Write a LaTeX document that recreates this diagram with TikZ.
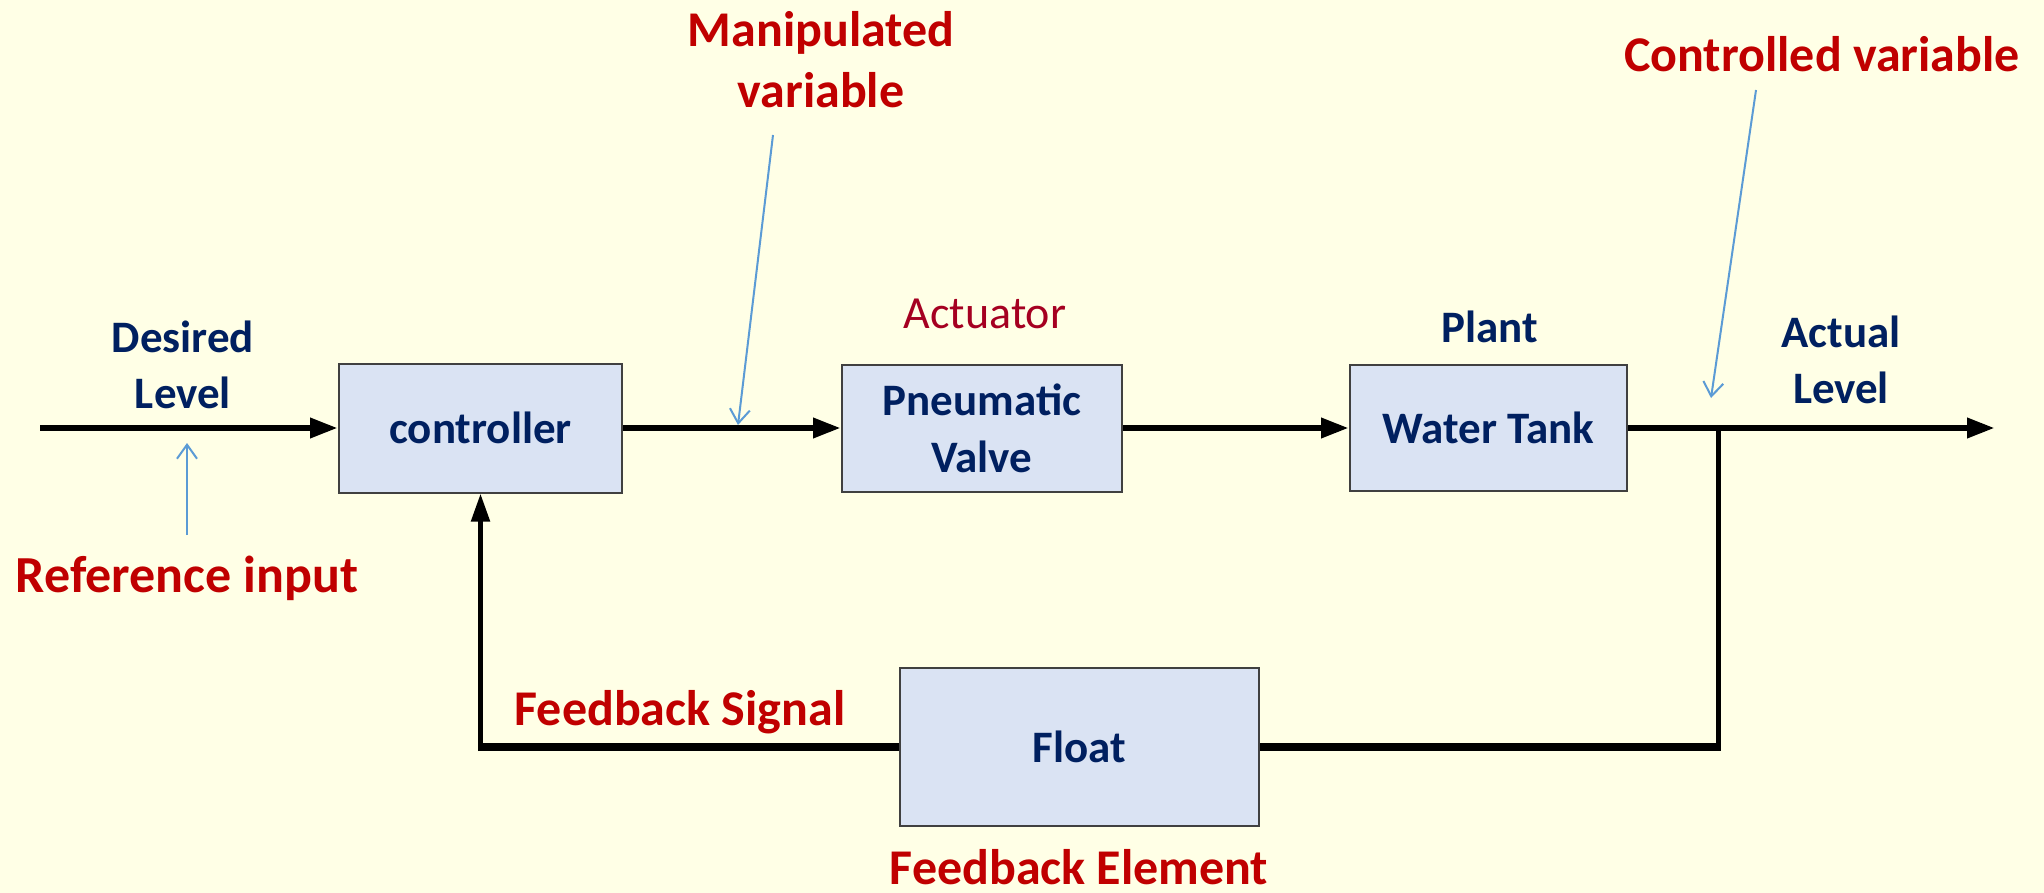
\documentclass[tikz,border=0pt]{standalone}
\usepackage{fontspec}
\setmainfont{Carlito}
\usetikzlibrary{arrows.meta}
\definecolor{bg}{HTML}{FFFFE6}
\definecolor{navy}{HTML}{002060}
\definecolor{lblred}{HTML}{C00000}
\definecolor{actred}{HTML}{A50021}
\definecolor{boxfill}{HTML}{DAE3F3}
\definecolor{boxline}{HTML}{404040}
\definecolor{callout}{HTML}{5B9BD5}
\begin{document}
\begin{tikzpicture}[x=1pt,y=-1pt,
  blk/.style={draw=boxline,line width=2pt,fill=boxfill,text=navy,
    font=\bfseries\fontsize{45}{57}\selectfont,align=center,inner sep=0pt},
  navylbl/.style={text=navy,font=\bfseries\fontsize{45}{56}\selectfont,align=center,inner sep=0pt},
  redlbl/.style={text=lblred,font=\bfseries\fontsize{50}{61}\selectfont,align=center,inner sep=0pt},
  sig/.style={line width=6.5pt,-{Triangle[length=28pt,width=19pt]}},
  fbh/.style={line width=8pt},
  fbv/.style={line width=5pt},
  call/.style={draw=callout,line width=2pt,-{Straight Barb[length=14pt,width=20pt]}}]
\fill[bg] (0,0) rectangle (2044,893);
\useasboundingbox (0,0) rectangle (2044,893);

% blocks
\node[blk,minimum width=283pt,minimum height=129pt] (ctrl) at (480.5,428) {controller};
\node[blk,minimum width=280pt,minimum height=127pt] (valve) at (982,428) {Pneumatic\\Valve};
\node[blk,minimum width=277pt,minimum height=126pt] (tank) at (1488.5,428) {Water Tank};
\node[blk,minimum width=359pt,minimum height=158pt] (fl) at (1079.5,747) {Float};

% coordinates
\coordinate (in) at (40,428);
\coordinate (out) at (1995,428);
\coordinate (j) at (1718,428);

% signal path
\draw[sig] (in) -- (ctrl.west);
\draw[sig] (ctrl.east) -- (valve.west);
\draw[sig] (valve.east) -- (tank.west);
\draw[sig] (tank.east) -- (out);

% feedback path
\draw[fbv] (j) -- ([yshift=-4pt]j |- fl.east);
\draw[fbh] (j |- fl.east) -- (fl.east);
\draw[fbh] (fl.west) -- (ctrl.south |- fl.west);
\draw[fbv,-{Triangle[length=28pt,width=18pt]}] ([yshift=-4pt]ctrl.south |- fl.west) -- (ctrl.south);

% labels
\node[navylbl] (des) at (183,365) {Desired\\Level};
\node[redlbl,anchor=base,font=\bfseries\fontsize{52}{61}\selectfont] (ref) at (187,592) {Reference input};
\node[redlbl] (man) at (821,60) {Manipulated\\variable};
\node[text=actred,font=\fontsize{46}{55}\selectfont,anchor=base,inner sep=0pt] (act) at (985,328) {Actuator};
\node[navylbl,anchor=base] (plant) at (1490,342) {Plant};
\node[navylbl] (actual) at (1841,360) {Actual\\Level};
\node[redlbl,anchor=base] (cv) at (1822,72) {Controlled variable};
\node[redlbl,anchor=base] (fs) at (680,725) {Feedback Signal};
\node[redlbl,anchor=base,text depth=0pt] (fe) at (1079,884) {Feedback Element};

% callout arrows
\coordinate (r0) at (187,535);
\coordinate (r1) at (187,443);
\coordinate (m0) at (773,135);
\coordinate (m1) at (738,425);
\coordinate (c0) at (1756,90);
\coordinate (c1) at (1711,398);
\draw[call] (r0) -- (r1);
\draw[call] (m0) -- (m1);
\draw[call] (c0) -- (c1);
\end{tikzpicture}
\end{document}
